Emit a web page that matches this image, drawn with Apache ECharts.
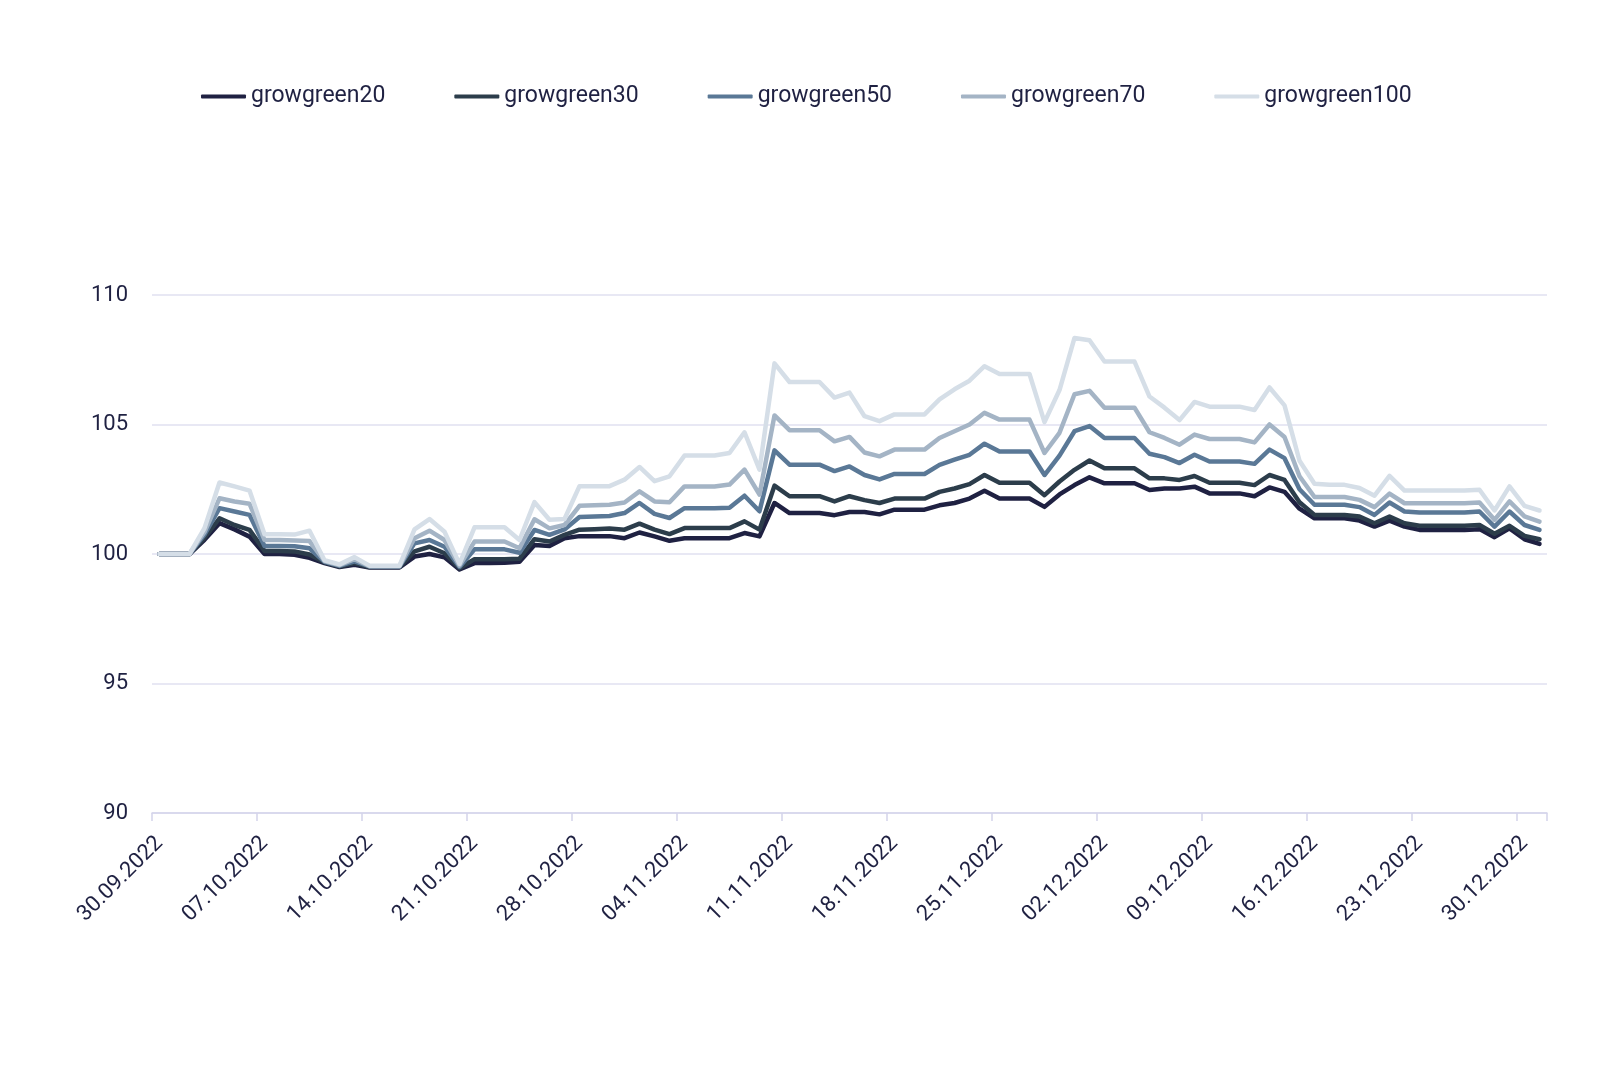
<!DOCTYPE html>
<html>
<head>
<meta charset="utf-8">
<script src="https://cdn.jsdelivr.net/npm/echarts@6/dist/echarts.min.js"></script>
<style>
html,body{margin:0;padding:0;background:#fff;}
#chart{width:1600px;height:1074px;}
</style>
</head>
<body>
<div id="chart"></div>
<script>
const categories = [
"30.09.2022",
"01.10.2022","02.10.2022","03.10.2022","04.10.2022","05.10.2022","06.10.2022","07.10.2022","08.10.2022","09.10.2022","10.10.2022",
"11.10.2022","12.10.2022","13.10.2022","14.10.2022","15.10.2022","16.10.2022","17.10.2022","18.10.2022","19.10.2022","20.10.2022",
"21.10.2022","22.10.2022","23.10.2022","24.10.2022","25.10.2022","26.10.2022","27.10.2022","28.10.2022","29.10.2022","30.10.2022","31.10.2022",
"01.11.2022","02.11.2022","03.11.2022","04.11.2022","05.11.2022","06.11.2022","07.11.2022","08.11.2022","09.11.2022","10.11.2022",
"11.11.2022","12.11.2022","13.11.2022","14.11.2022","15.11.2022","16.11.2022","17.11.2022","18.11.2022","19.11.2022","20.11.2022",
"21.11.2022","22.11.2022","23.11.2022","24.11.2022","25.11.2022","26.11.2022","27.11.2022","28.11.2022","29.11.2022","30.11.2022",
"01.12.2022","02.12.2022","03.12.2022","04.12.2022","05.12.2022","06.12.2022","07.12.2022","08.12.2022","09.12.2022","10.12.2022",
"11.12.2022","12.12.2022","13.12.2022","14.12.2022","15.12.2022","16.12.2022","17.12.2022","18.12.2022","19.12.2022","20.12.2022",
"21.12.2022","22.12.2022","23.12.2022","24.12.2022","25.12.2022","26.12.2022","27.12.2022","28.12.2022","29.12.2022","30.12.2022","31.12.2022"
];

const seriesNames = ["growgreen20","growgreen30","growgreen50","growgreen70","growgreen100"];

const growgreen20 = [
100,100,100,100.55,101.19,100.95,100.67,100.0,100.0,99.97,
99.85,99.65,99.5,99.58,99.48,99.48,99.48,99.9,100.0,99.87,
99.4,99.65,99.65,99.66,99.7,100.35,100.31,100.61,100.69,100.69,
100.69,100.61,100.83,100.68,100.51,100.61,100.61,100.61,100.61,100.81,
100.68,101.97,101.58,101.58,101.58,101.5,101.62,101.62,101.53,101.71,
101.71,101.71,101.88,101.97,102.14,102.44,102.14,102.14,102.14,101.82,
102.3,102.66,102.96,102.73,102.73,102.73,102.47,102.53,102.53,102.6,
102.34,102.34,102.34,102.23,102.57,102.4,101.75,101.38,101.38,101.38,
101.29,101.06,101.29,101.06,100.93,100.93,100.93,100.93,100.96,100.65,
100.99,100.57,100.39
];
const growgreen30 = [
100,100,100,100.62,101.38,101.12,100.93,100.12,100.12,100.1,
99.98,99.68,99.52,99.65,99.5,99.5,99.5,100.1,100.28,100.03,
99.45,99.8,99.8,99.8,99.82,100.57,100.48,100.74,100.94,100.96,
100.98,100.94,101.17,100.94,100.77,101.0,101.0,101.0,101.0,101.26,
100.94,102.64,102.23,102.23,102.23,102.03,102.23,102.08,101.97,102.14,
102.14,102.14,102.4,102.53,102.7,103.05,102.75,102.75,102.75,102.27,
102.8,103.25,103.61,103.31,103.31,103.31,102.92,102.92,102.86,103.01,
102.75,102.75,102.75,102.66,103.05,102.86,102.0,101.51,101.51,101.51,
101.45,101.19,101.45,101.19,101.09,101.09,101.09,101.09,101.12,100.78,
101.09,100.7,100.57
];
const growgreen50 = [
100,100,100,100.75,101.77,101.64,101.51,100.31,100.31,100.3,
100.22,99.7,99.54,99.72,99.52,99.52,99.52,100.41,100.54,100.28,
99.5,100.18,100.18,100.18,100.05,100.93,100.74,100.95,101.43,101.45,
101.47,101.58,101.97,101.55,101.39,101.77,101.77,101.77,101.79,102.25,
101.65,104.0,103.45,103.45,103.45,103.2,103.38,103.05,102.88,103.09,
103.09,103.09,103.44,103.64,103.83,104.26,103.96,103.96,103.96,103.05,
103.8,104.74,104.94,104.48,104.48,104.48,103.87,103.74,103.51,103.83,
103.57,103.57,103.57,103.48,104.03,103.7,102.5,101.9,101.9,101.9,
101.81,101.51,101.99,101.64,101.6,101.6,101.6,101.6,101.64,101.06,
101.64,101.12,100.93
];
const growgreen70 = [
100,100,100,100.85,102.15,102.03,101.94,100.54,100.54,100.52,
100.5,99.73,99.57,99.8,99.53,99.53,99.53,100.61,100.9,100.54,
99.55,100.48,100.48,100.48,100.22,101.34,100.99,101.12,101.86,101.88,
101.9,101.99,102.42,102.03,102.0,102.61,102.61,102.61,102.68,103.26,
102.29,105.35,104.78,104.78,104.78,104.35,104.52,103.92,103.77,104.03,
104.03,104.03,104.48,104.74,105.0,105.45,105.19,105.19,105.19,103.9,
104.68,106.17,106.3,105.65,105.65,105.65,104.7,104.48,104.22,104.61,
104.44,104.44,104.44,104.31,105.0,104.52,103.0,102.2,102.2,102.2,
102.09,101.81,102.33,101.96,101.96,101.96,101.96,101.96,101.99,101.32,
102.03,101.45,101.25
];
const growgreen100 = [
100,100,100,101.0,102.76,102.61,102.45,100.76,100.76,100.75,
100.9,99.76,99.6,99.88,99.55,99.55,99.55,100.95,101.35,100.86,
99.62,101.03,101.03,101.03,100.54,102.0,101.32,101.35,102.62,102.62,
102.62,102.87,103.36,102.81,103.0,103.8,103.8,103.8,103.9,104.7,
103.26,107.36,106.64,106.64,106.64,106.04,106.23,105.32,105.13,105.39,
105.39,105.39,105.97,106.36,106.69,107.25,106.95,106.95,106.95,105.09,
106.33,108.34,108.25,107.43,107.43,107.43,106.08,105.65,105.17,105.87,
105.69,105.69,105.69,105.56,106.43,105.74,103.6,102.71,102.67,102.67,
102.55,102.25,103.02,102.45,102.45,102.45,102.45,102.45,102.48,101.68,
102.61,101.86,101.68
];

const yTicks = [90, 95, 100, 105, 110];
const seriesData = [growgreen20, growgreen30, growgreen50, growgreen70, growgreen100];
const colors = ["#1f2142", "#2c3d4b", "#5a7896", "#a4b4c5", "#d5dee7"];

const chart = echarts.init(document.getElementById('chart'), null, {renderer: 'canvas'});
const FONT = 'Roboto, "Noto Sans", sans-serif';
const textColor = '#1f2142';

chart.setOption({
  animation: false,
  backgroundColor: '#ffffff',
  color: colors,
  legend: {
    data: seriesNames,
    left: 196,
    top: 80,
    itemWidth: 45,
    itemHeight: 4,
    itemGap: 69,
    icon: 'roundRect',
    textStyle: { fontFamily: FONT, fontSize: 23, color: textColor },
    inactiveColor: '#ccc'
  },
  grid: { left: 152, right: 53, top: 295, bottom: 261, containLabel: false },
  xAxis: {
    type: 'category',
    data: categories,
    boundaryGap: true,
    axisLine: { show: true, lineStyle: { color: '#d4d4ea', width: 1.5 } },
    axisTick: {
      show: true,
      interval: 6,
      length: 8,
      lineStyle: { color: '#d4d4ea', width: 1.5 }
    },
    axisLabel: {
      interval: 6,
      rotate: 45,
      margin: 27,
      fontFamily: FONT,
      fontSize: 22,
      color: textColor
    },
    splitLine: { show: false }
  },
  yAxis: {
    type: 'value',
    min: yTicks[0],
    max: yTicks[yTicks.length - 1],
    interval: 5,
    axisLine: { show: false },
    axisTick: { show: false },
    axisLabel: { margin: 24, fontFamily: FONT, fontSize: 22, color: textColor },
    splitLine: { show: true, lineStyle: { color: '#e0e0f0', width: 1.5 } }
  },
  series: seriesNames.map((name, k) => ({
    name: name,
    type: 'line',
    data: seriesData[k],
    showSymbol: false,
    symbol: 'none',
    smooth: false,
    lineStyle: { width: 4.5, color: colors[k], join: 'round', cap: 'round' },
    itemStyle: { color: colors[k] },
    emphasis: { disabled: true }
  }))
});
</script>
</body>
</html>
